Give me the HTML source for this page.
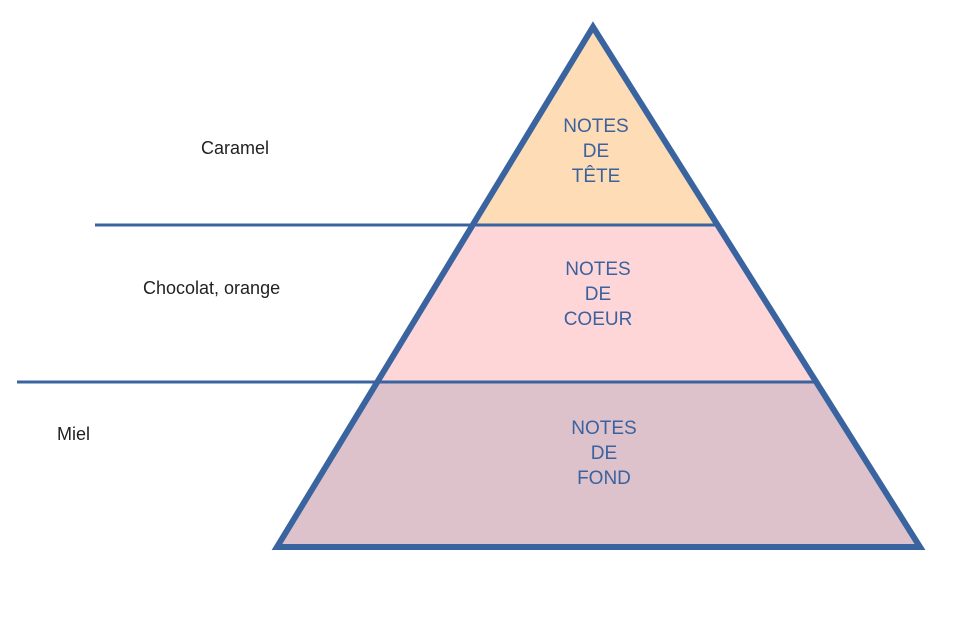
<!DOCTYPE html>
<html><head><meta charset="utf-8"><style>
html,body{margin:0;padding:0;background:#fff;width:962px;height:617px;overflow:hidden}
svg text{font-family:"Comic Sans MS","Liberation Sans",sans-serif}
</style></head><body>
<svg width="962" height="617" viewBox="0 0 962 617" xmlns="http://www.w3.org/2000/svg">
<polygon points="593,27 473,225 717,225" fill="#fedcb6"/>
<polygon points="473,225 717,225 816,382 377,382" fill="#fed6d8"/>
<polygon points="377,382 816,382 920,547 277,547" fill="#dec2cb"/>
<line x1="95" y1="225" x2="717" y2="225" stroke="#3a64a0" stroke-width="3"/>
<line x1="17" y1="382" x2="816" y2="382" stroke="#3a64a0" stroke-width="3"/>
<polygon points="593,27 920,547 277,547" fill="none" stroke="#3a64a0" stroke-width="6" stroke-linejoin="miter"/>
<g fill="#3a62a0" font-size="19" text-anchor="middle">
<text x="596" y="132">NOTES</text><text x="596" y="157">DE</text><text x="596" y="182">TÊTE</text>
<text x="598" y="275">NOTES</text><text x="598" y="300">DE</text><text x="598" y="325">COEUR</text>
<text x="604" y="434">NOTES</text><text x="604" y="459">DE</text><text x="604" y="484">FOND</text>
</g>
<g fill="#222" font-size="18">
<text x="201" y="154">Caramel</text>
<text x="143" y="294">Chocolat, orange</text>
<text x="57" y="440">Miel</text>
</g>
</svg>
</body></html>
